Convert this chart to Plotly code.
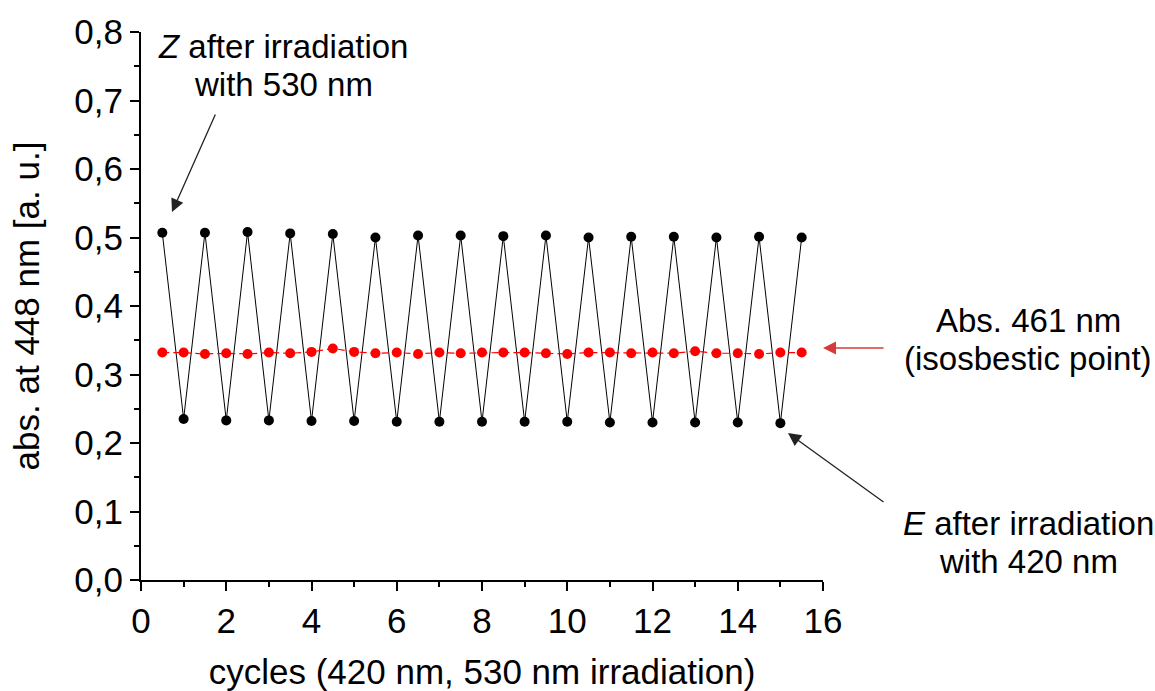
import plotly.graph_objects as go

# Absorbance at 448 nm after alternating irradiation (half-cycle steps)
x_high = [0.5, 1.5, 2.5, 3.5, 4.5, 5.5, 6.5, 7.5, 8.5, 9.5, 10.5, 11.5, 12.5, 13.5, 14.5, 15.5]
y_high = [0.507, 0.507, 0.508, 0.506, 0.505, 0.500, 0.503, 0.503, 0.502, 0.503,
          0.500, 0.501, 0.501, 0.500, 0.501, 0.500]
x_low = [1, 2, 3, 4, 5, 6, 7, 8, 9, 10, 11, 12, 13, 14, 15]
y_low = [0.235, 0.233, 0.233, 0.232, 0.232, 0.231, 0.231, 0.231, 0.231, 0.231,
         0.230, 0.230, 0.230, 0.230, 0.229]

# Absorbance at the isosbestic point (461 nm)
x_iso = [0.5, 1, 1.5, 2, 2.5, 3, 3.5, 4, 4.5, 5, 5.5, 6, 6.5, 7, 7.5, 8,
         8.5, 9, 9.5, 10, 10.5, 11, 11.5, 12, 12.5, 13, 13.5, 14, 14.5, 15, 15.5]
y_iso = [0.332, 0.332, 0.330, 0.331, 0.330, 0.332, 0.331, 0.333, 0.338, 0.333,
         0.331, 0.332, 0.330, 0.332, 0.331, 0.332, 0.332, 0.332, 0.331, 0.330,
         0.332, 0.332, 0.331, 0.332, 0.331, 0.334, 0.331, 0.331, 0.330, 0.332, 0.332]

x_ticks = [0, 2, 4, 6, 8, 10, 12, 14, 16]
y_ticks = [0.0, 0.1, 0.2, 0.3, 0.4, 0.5, 0.6, 0.7, 0.8]

# interleave high/low points into one zigzag trace
pairs = sorted(zip(x_high + x_low, y_high + y_low))
x_zig = [p[0] for p in pairs]
y_zig = [p[1] for p in pairs]

FONT = "Liberation Sans, Arial, sans-serif"
FS_AX = 35   # tick labels and axis titles
FS_TXT = 33  # annotation labels

# plot area in pixels
L, R, T, B = 141, 823, 32, 580
PW, PH = R - L, B - T


def px_x(px):
    return (px - L) / PW * 16


def px_y(py):
    return (B - py) / PH * 0.8


def paper_x(px):
    return (px - L) / PW


def paper_y(py):
    return (B - py) / PH


fig = go.Figure()
fig.add_trace(go.Scatter(
    x=x_zig, y=y_zig, mode="lines+markers",
    line=dict(color="black", width=1),
    marker=dict(color="black", size=10),
    showlegend=False,
))
fig.add_trace(go.Scatter(
    x=x_iso, y=y_iso, mode="lines+markers",
    line=dict(color="#ff0000", width=1.2, dash="7px,4px"),
    marker=dict(color="#ff0000", size=10),
    showlegend=False,
))

axis_common = dict(
    showline=True, linecolor="black", linewidth=2, mirror=False,
    showgrid=False, zeroline=False, automargin=False,
    ticks="outside", ticklen=9, tickwidth=2, tickcolor="black",
    tickfont=dict(family=FONT, size=FS_AX, color="black"),
)

fig.update_xaxes(
    range=[0, 16], tickvals=x_ticks, ticktext=[str(v) for v in x_ticks],
    minor=dict(dtick=1, ticklen=5, tickwidth=2, tickcolor="black", ticks="outside"),
    title=dict(text="cycles (420 nm, 530 nm irradiation)",
               font=dict(family=FONT, size=FS_AX, color="black"), standoff=27),
    **axis_common,
)
fig.update_yaxes(
    range=[0, 0.8], tickvals=y_ticks, tickformat=".1f",
    minor=dict(dtick=0.05, ticklen=5, tickwidth=2, tickcolor="black", ticks="outside"),
    title=dict(text="abs. at 448 nm [a. u.]",
               font=dict(family=FONT, size=FS_AX, color="black"), standoff=24),
    **axis_common,
)

tfont = dict(family=FONT, size=FS_TXT, color="black")
arrow_style = dict(showarrow=True, arrowhead=2, arrowsize=2, arrowwidth=1.3, text="")


def label(cx, cy, text):
    return dict(xref="paper", yref="paper", x=paper_x(cx), y=paper_y(cy),
                text=text, showarrow=False, font=tfont,
                xanchor="center", yanchor="middle")


annotations = [
    # Z label and arrow
    label(283, 46, "<i>Z</i> after irradiation"),
    label(283, 85, "with 530 nm"),
    dict(x=px_x(172), y=px_y(212), xref="x", yref="y",
         ax=216 - 172, ay=113 - 212, arrowcolor="#222222", **arrow_style),
    # isosbestic label and red arrow
    label(1028, 320, "Abs. 461 nm"),
    label(1028, 358, "(isosbestic point)"),
    dict(x=px_x(823), y=px_y(348), xref="x", yref="y",
         ax=62, ay=0, arrowcolor="#d83a3a", **arrow_style),
    # E label and arrow
    label(1028, 523, "<i>E</i> after irradiation"),
    label(1028, 561, "with 420 nm"),
    dict(x=px_x(788), y=px_y(433), xref="x", yref="y",
         ax=885 - 788, ay=503 - 433, arrowcolor="#222222", **arrow_style),
]

fig.update_layout(
    width=1155, height=691,
    margin=dict(l=L, r=1155 - R, t=T, b=691 - B, pad=0),
    paper_bgcolor="white", plot_bgcolor="white",
    separators=",.",
    annotations=annotations,
    font=dict(family=FONT, color="black"),
)

fig.write_html("out.html")
